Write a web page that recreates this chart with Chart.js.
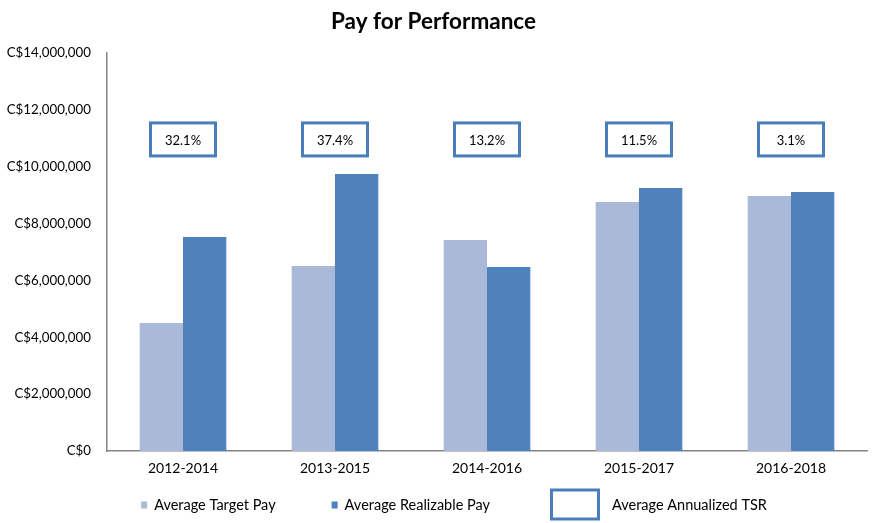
<!DOCTYPE html>
<html>
	<head>
		<title>Pay for Performance</title>
        <meta charset="UTF-8">
        <script src="https://cdn.jsdelivr.net/npm/chart.js@4"></script>
        <style>
            body { margin: 0; background: #fff; }
            #wrap { width: 876px; height: 523px; }
        </style>
	</head>
	<body>
        <div id="wrap"><canvas id="myChart" width="876" height="523"></canvas></div>

		<script>
            // data
            var periods = ['2012-2014', '2013-2015', '2014-2016', '2015-2017', '2016-2018']
            var targetPay = [4500000, 6510000, 7420000, 8760000, 8970000]
            var realizablePay = [7530000, 9740000, 6470000, 9250000, 9110000]
            var tsr = ['32.1%', '37.4%', '13.2%', '11.5%', '3.1%']
            var tsrLevel = [10960000, 10960000, 10960000, 10960000, 10960000]
            var yTicks = [0, 2000000, 4000000, 6000000, 8000000, 10000000, 12000000, 14000000]

            var FONT = 'Lato, "Open Sans", sans-serif'
            var LIGHT = '#aab9d8'
            var DARK = '#4f81bd'
            var BOXBLUE = '#4a7ebb'
            var AXIS = '#868686'

            function money(v) {
                return 'C$' + Number(v).toLocaleString('en-US')
            }

            // TSR labels in framed boxes, placed on the hidden line series
            var tsrBoxes = {
                id: 'tsrBoxes',
                afterDatasetsDraw: function(chart) {
                    var ctx = chart.ctx
                    var meta = chart.getDatasetMeta(2)
                    ctx.save()
                    meta.data.forEach(function(pt, i) {
                        var w = 65, h = 33
                        ctx.fillStyle = '#fff'
                        ctx.fillRect(pt.x - w / 2, pt.y - h / 2, w, h)
                        ctx.lineWidth = 3
                        ctx.strokeStyle = BOXBLUE
                        ctx.strokeRect(pt.x - w / 2, pt.y - h / 2, w, h)
                        ctx.fillStyle = '#000'
                        ctx.font = '13px ' + FONT
                        ctx.textAlign = 'center'
                        ctx.textBaseline = 'middle'
                        ctx.fillText(tsr[i], pt.x, pt.y + 1)
                    })
                    ctx.restore()
                }
            }

            // bottom legend, drawn by hand because the TSR key is a wide frame
            var bottomLegend = {
                id: 'bottomLegend',
                afterDraw: function(chart) {
                    var ctx = chart.ctx
                    ctx.save()
                    ctx.font = '14.5px ' + FONT
                    ctx.textBaseline = 'middle'
                    ctx.textAlign = 'left'
                    var y = 505
                    var gaps = [56, 60]
                    var items = [
                        { text: 'Average Target Pay', kind: 'sq', color: LIGHT },
                        { text: 'Average Realizable Pay', kind: 'sq', color: DARK },
                        { text: 'Average Annualized TSR', kind: 'frame', color: BOXBLUE }
                    ]
                    var total = 0
                    items.forEach(function(it, i) {
                        it.keyW = it.kind == 'sq' ? 6 : 50
                        it.gap = it.kind == 'sq' ? 7 : 12
                        it.tw = ctx.measureText(it.text).width
                        total += it.keyW + it.gap + it.tw
                        if (i < gaps.length) total += gaps[i]
                    })
                    var x = 454 - total / 2
                    items.forEach(function(it, i) {
                        if (it.kind == 'sq') {
                            ctx.fillStyle = it.color
                            ctx.fillRect(x, y - 3.5, 6, 7)
                        } else {
                            ctx.lineWidth = 3
                            ctx.strokeStyle = it.color
                            ctx.strokeRect(x + 1.5, y - 15, 47, 29)
                        }
                        x += it.keyW + it.gap
                        ctx.fillStyle = '#000'
                        ctx.fillText(it.text, x, y)
                        x += it.tw + (i < gaps.length ? gaps[i] : 0)
                    })
                    ctx.restore()
                }
            }

			var ctx = document.getElementById('myChart').getContext('2d')
            var chart = new Chart(ctx, {
                type: 'bar',
                data: {
                    labels: periods,
                    datasets: [{
                        label: 'Average Target Pay',
                        backgroundColor: LIGHT,
                        data: targetPay
                    }, {
                        label: 'Average Realizable Pay',
                        backgroundColor: DARK,
                        data: realizablePay
                    }, {
                        type: 'line',
                        label: 'Average Annualized TSR',
                        data: tsrLevel,
                        showLine: false,
                        pointRadius: 0,
                        borderColor: BOXBLUE
                    }]
                },
                options: {
                    responsive: false,
                    animation: false,
                    layout: { padding: { left: 0, right: 9, top: 0, bottom: 0 } },
                    datasets: {
                        bar: { barPercentage: 1.0, categoryPercentage: 0.57 }
                    },
                    plugins: {
                        legend: { display: false },
                        tooltip: { enabled: false },
                        title: {
                            display: true,
                            text: 'Pay for Performance',
                            color: '#000',
                            font: { family: FONT, size: 22.5, weight: 'bold' },
                            padding: { top: 8, bottom: 18 }
                        }
                    },
                    scales: {
                        x: {
                            grid: { display: false, drawTicks: false },
                            border: { color: AXIS, width: 1.5 },
                            ticks: { color: '#000', font: { family: FONT, size: 14 }, padding: 9 },
                            afterFit: function(s) { s.height = 72 }
                        },
                        y: {
                            min: 0,
                            max: 14000000,
                            grid: { display: false, drawTicks: false },
                            border: { color: AXIS, width: 1.5 },
                            afterBuildTicks: function(s) {
                                s.ticks = yTicks.map(function(v) { return { value: v } })
                            },
                            ticks: {
                                color: '#000',
                                font: { family: FONT, size: 13.3 },
                                padding: 16,
                                callback: function(v) { return money(v) }
                            },
                            afterFit: function(s) { s.width = 107 }
                        }
                    }
                },
                plugins: [tsrBoxes, bottomLegend]
            })
		</script>
	</body>
</html>
